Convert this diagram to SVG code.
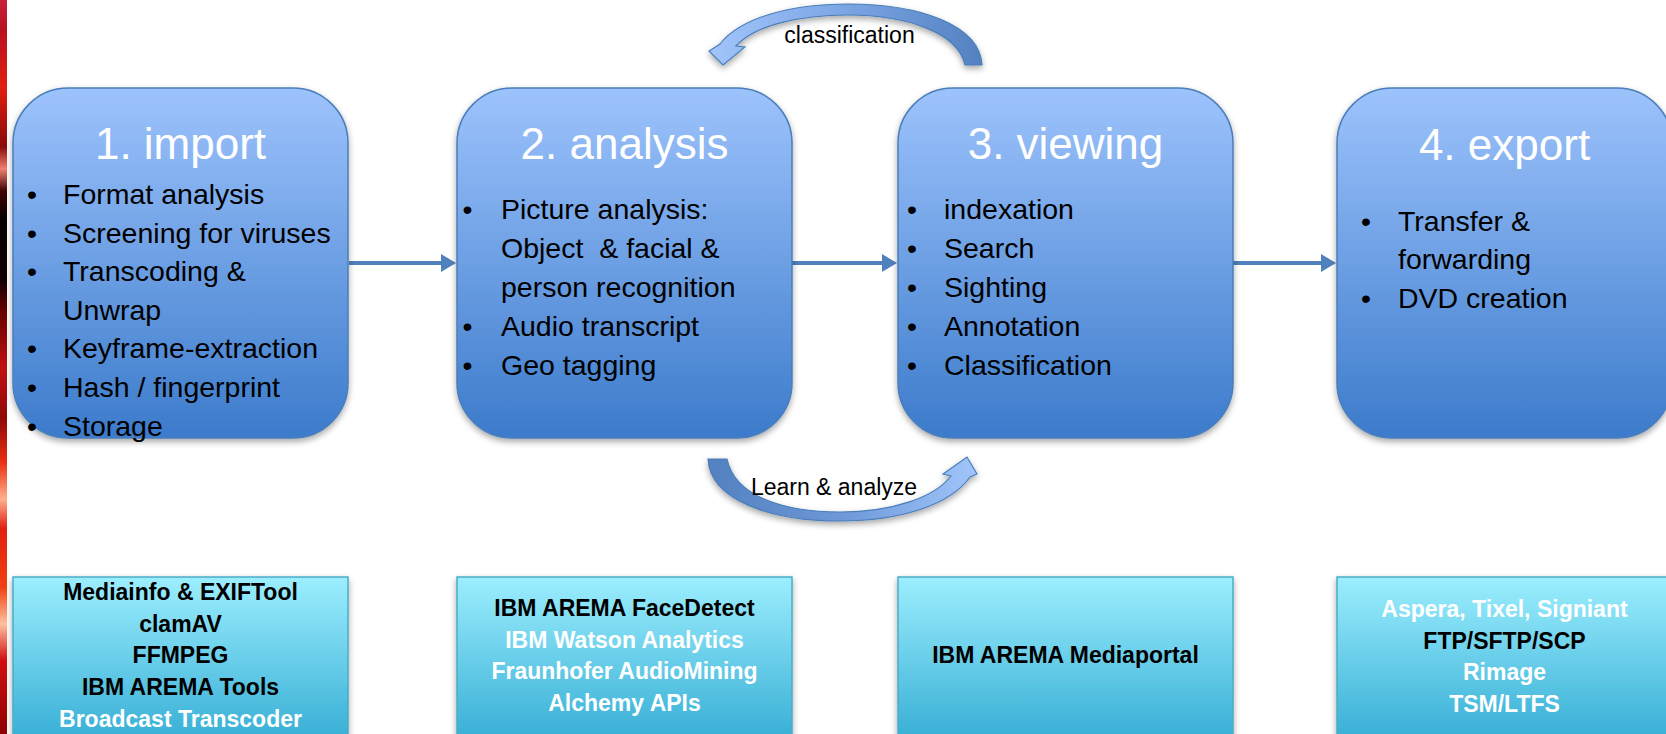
<svg xmlns="http://www.w3.org/2000/svg" width="1666" height="734" viewBox="0 0 1666 734">
<defs>
<linearGradient id="gBox" x1="0" y1="0" x2="0" y2="1">
<stop offset="0" stop-color="#9DC3FC"/>
<stop offset="1" stop-color="#3C7BCB"/>
</linearGradient>
<linearGradient id="gTool" x1="0" y1="0" x2="0" y2="1">
<stop offset="0" stop-color="#9CEEFE"/>
<stop offset="1" stop-color="#36AED5"/>
</linearGradient>
<linearGradient id="gTop" gradientUnits="userSpaceOnUse" x1="706" y1="0" x2="983" y2="0">
<stop offset="0" stop-color="#A2C6FB"/>
<stop offset="0.5" stop-color="#7CA5E4"/>
<stop offset="1" stop-color="#5381C0"/>
</linearGradient>
<linearGradient id="gBot" gradientUnits="userSpaceOnUse" x1="708" y1="0" x2="978" y2="0">
<stop offset="0" stop-color="#5381C0"/>
<stop offset="0.5" stop-color="#6E98D8"/>
<stop offset="1" stop-color="#A2C6FB"/>
</linearGradient>
<linearGradient id="gStrip" x1="0" y1="0" x2="0" y2="1">
<stop offset="0" stop-color="#C8203C"/>
<stop offset="0.04" stop-color="#B81020"/>
<stop offset="0.12" stop-color="#E02010"/>
<stop offset="0.2" stop-color="#8A0A0A"/>
<stop offset="0.23" stop-color="#F08070"/>
<stop offset="0.26" stop-color="#400000"/>
<stop offset="0.3" stop-color="#050000"/>
<stop offset="0.38" stop-color="#100000"/>
<stop offset="0.42" stop-color="#600000"/>
<stop offset="0.5" stop-color="#C01010"/>
<stop offset="0.57" stop-color="#900808"/>
<stop offset="0.63" stop-color="#E83010"/>
<stop offset="0.68" stop-color="#FFB090"/>
<stop offset="0.72" stop-color="#E02010"/>
<stop offset="0.8" stop-color="#F04010"/>
<stop offset="0.85" stop-color="#FFC0A0"/>
<stop offset="0.9" stop-color="#D01010"/>
<stop offset="1" stop-color="#900000"/>
</linearGradient>
<filter id="sh" x="-10%" y="-10%" width="120%" height="130%">
<feDropShadow dx="0" dy="3" stdDeviation="3" flood-color="#000" flood-opacity="0.35"/>
</filter>
<marker id="ah" markerUnits="userSpaceOnUse" markerWidth="16" markerHeight="18" refX="1" refY="9" orient="auto">
<path d="M0,0 L15,9 L0,18 Z" fill="#4F81BD"/>
</marker>
<style>
.box{fill:url(#gBox);stroke:#4A7EBB;stroke-width:1.5;filter:url(#sh)}
.tool{fill:url(#gTool);stroke:#4BACC6;stroke-width:1.5;filter:url(#sh)}
.title{font-family:"Liberation Sans",Arial,sans-serif;font-size:44px;fill:#fff;text-anchor:middle}
.item{font-family:"Liberation Sans",Arial,sans-serif;font-size:28.5px;fill:#000;white-space:pre}
.tt{font-family:"Liberation Sans",Arial,sans-serif;font-weight:bold;font-size:23px;text-anchor:middle}
.blk{fill:#000}
.wht{fill:#fff}
.conn{stroke:#4F81BD;stroke-width:4;fill:none;marker-end:url(#ah)}
.carrow{stroke:#4A7EBB;stroke-width:1.2;filter:url(#sh)}
.lbl{font-family:"Liberation Sans",Arial,sans-serif;font-size:23px;fill:#000;text-anchor:middle}
</style>
</defs>
<rect x="0" y="0" width="1666" height="734" fill="#fff"/>
<rect id="strip" x="0" y="0" width="7" height="734" fill="url(#gStrip)"/>

<g id="connectors">
<line class="conn" x1="349" y1="263" x2="442" y2="263"/>
<line class="conn" x1="792" y1="263" x2="883" y2="263"/>
<line class="conn" x1="1233" y1="263" x2="1322" y2="263"/>
<g id="arrow-classification">
<path class="carrow" fill="url(#gTop)" d="M 982 65 C 980 25, 920 4, 848 4 C 790 4, 740 18, 720 44 L 709 51 L 723 65 L 745 47 L 736 46 C 755 25, 800 15, 848 15 C 905 15, 958 32, 965 65 Z"/>
<text class="lbl" x="849.5" y="43">classification</text>
</g>
<g id="arrow-learn">
<path class="carrow" fill="url(#gBot)" d="M 708 459 C 710 500, 770 521, 840 521 C 900 521, 950 505, 970 477 L 977 474 L 967 457 L 943 474 L 951 476 C 935 497, 893 512, 840 512 C 785 512, 735 497, 727 459 Z"/>
<text class="lbl" x="834" y="495">Learn &amp; analyze</text>
</g>
</g>

<g id="node-import">
<rect class="box" x="13" y="88" width="335" height="350" rx="55" ry="55"/>
<text class="title" x="180.5" y="159">1. import</text>
<text class="item" x="27" y="204">•</text><text class="item" x="63" y="204">Format analysis</text>
<text class="item" x="27" y="242.6">•</text><text class="item" x="63" y="242.6">Screening for viruses</text>
<text class="item" x="27" y="281.2">•</text><text class="item" x="63" y="281.2">Transcoding &amp;</text>
<text class="item" x="63" y="319.8">Unwrap</text>
<text class="item" x="27" y="358.4">•</text><text class="item" x="63" y="358.4">Keyframe-extraction</text>
<text class="item" x="27" y="397">•</text><text class="item" x="63" y="397">Hash / fingerprint</text>
<text class="item" x="27" y="435.6">•</text><text class="item" x="63" y="435.6">Storage</text>
</g>

<g id="node-analysis">
<rect class="box" x="457" y="88" width="335" height="350" rx="55" ry="55"/>
<text class="title" x="624.5" y="159">2. analysis</text>
<text class="item" x="462.5" y="219">•</text><text class="item" x="501" y="219">Picture analysis:</text>
<text class="item" x="501" y="258">Object  &amp; facial &amp;</text>
<text class="item" x="501" y="297">person recognition</text>
<text class="item" x="462.5" y="335.5">•</text><text class="item" x="501" y="335.5">Audio transcript</text>
<text class="item" x="462.5" y="374.5">•</text><text class="item" x="501" y="374.5">Geo tagging</text>
</g>

<g id="node-viewing">
<rect class="box" x="898" y="88" width="335" height="350" rx="55" ry="55"/>
<text class="title" x="1065.5" y="159">3. viewing</text>
<text class="item" x="907" y="219">•</text><text class="item" x="944" y="219">indexation</text>
<text class="item" x="907" y="258">•</text><text class="item" x="944" y="258">Search</text>
<text class="item" x="907" y="297">•</text><text class="item" x="944" y="297">Sighting</text>
<text class="item" x="907" y="335.5">•</text><text class="item" x="944" y="335.5">Annotation</text>
<text class="item" x="907" y="374.5">•</text><text class="item" x="944" y="374.5">Classification</text>
</g>

<g id="node-export">
<rect class="box" x="1337" y="88" width="335" height="350" rx="55" ry="55"/>
<text class="title" x="1504.5" y="160">4. export</text>
<text class="item" x="1361" y="230.5">•</text><text class="item" x="1398" y="230.5">Transfer &amp;</text>
<text class="item" x="1398" y="269">forwarding</text>
<text class="item" x="1361" y="307.5">•</text><text class="item" x="1398" y="307.5">DVD creation</text>
</g>

<g id="tools-import">
<rect class="tool" x="13" y="577" width="335" height="165"/>
<text class="tt blk" x="180.5" y="600">Mediainfo &amp; EXIFTool</text>
<text class="tt blk" x="180.5" y="631.7">clamAV</text>
<text class="tt blk" x="180.5" y="663.4">FFMPEG</text>
<text class="tt blk" x="180.5" y="695.1">IBM AREMA Tools</text>
<text class="tt wht" x="180.5" y="726.8">Broadcast Transcoder</text>
</g>

<g id="tools-analysis">
<rect class="tool" x="457" y="577" width="335" height="165"/>
<text class="tt blk" x="624.5" y="616">IBM AREMA FaceDetect</text>
<text class="tt wht" x="624.5" y="647.7">IBM Watson Analytics</text>
<text class="tt wht" x="624.5" y="679.4">Fraunhofer AudioMining</text>
<text class="tt wht" x="624.5" y="711.1">Alchemy APIs</text>
</g>

<g id="tools-viewing">
<rect class="tool" x="898" y="577" width="335" height="165"/>
<text class="tt blk" x="1065.5" y="663">IBM AREMA Mediaportal</text>
</g>

<g id="tools-export">
<rect class="tool" x="1337" y="577" width="335" height="165"/>
<text class="tt wht" x="1504.5" y="617">Aspera, Tixel, Signiant</text>
<text class="tt blk" x="1504.5" y="648.7">FTP/SFTP/SCP</text>
<text class="tt wht" x="1504.5" y="680.4">Rimage</text>
<text class="tt wht" x="1504.5" y="712.1">TSM/LTFS</text>
</g>
</svg>
